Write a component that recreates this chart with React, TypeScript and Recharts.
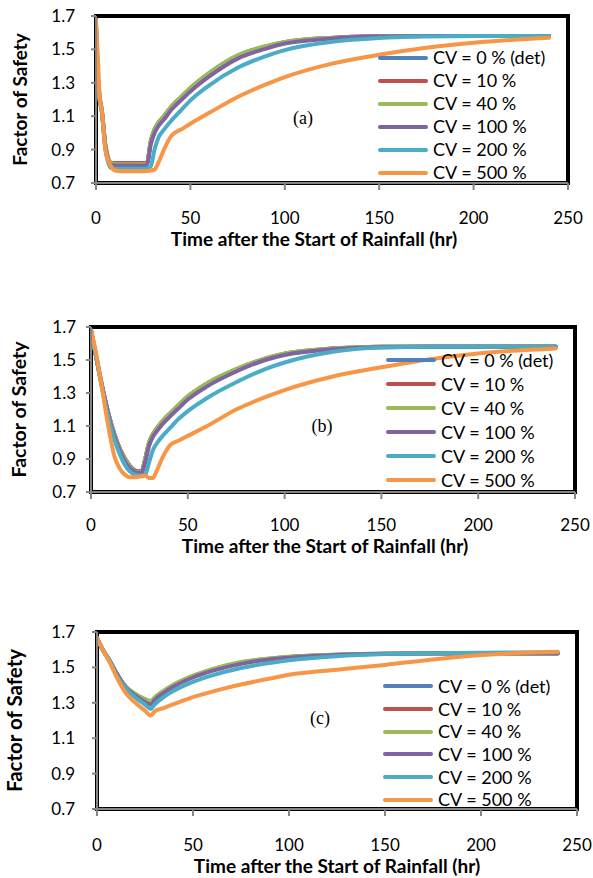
import { LineChart, Line, XAxis, YAxis, ReferenceArea, Legend } from "recharts";

const SERIES_NAMES = ["CV = 0 % (det)", "CV = 10 %", "CV = 40 %", "CV = 100 %", "CV = 200 %", "CV = 500 %"];
const COLORS = ["#4F81BD", "#C0504D", "#9BBB59", "#8064A2", "#4BACC6", "#F79646"];
const X_TICKS = [0, 50, 100, 150, 200, 250];
const Y_TICKS = [0.7, 0.9, 1.1, 1.3, 1.5, 1.7];

// (a)
const timeA = [0, 1, 2, 3, 5, 8, 10, 15, 20, 25, 27, 29, 31, 33, 36, 40, 45, 50, 60, 75, 90, 100, 125, 150, 175, 200, 240];
const aCv0 = [1.62, 1.32, 1.2, 1.14, 0.92, 0.82, 0.818, 0.818, 0.818, 0.818, 0.82, 0.95, 1.02, 1.06, 1.1, 1.158, 1.213, 1.268, 1.358, 1.462, 1.518, 1.543, 1.569, 1.578, 1.58, 1.58, 1.58];
const aCv10 = [1.62, 1.33, 1.2, 1.14, 0.92, 0.82, 0.82, 0.82, 0.82, 0.82, 0.822, 0.95, 1.02, 1.06, 1.1, 1.158, 1.213, 1.268, 1.358, 1.462, 1.518, 1.543, 1.569, 1.578, 1.58, 1.58, 1.58];
const aCv40 = [1.66, 1.36, 1.22, 1.15, 0.93, 0.82, 0.812, 0.812, 0.812, 0.812, 0.815, 0.95, 1.02, 1.06, 1.1, 1.16, 1.215, 1.27, 1.36, 1.465, 1.52, 1.545, 1.57, 1.578, 1.58, 1.58, 1.58];
const aCv100 = [1.64, 1.33, 1.2, 1.14, 0.92, 0.81, 0.805, 0.805, 0.805, 0.805, 0.808, 0.93, 1.0, 1.04, 1.08, 1.14, 1.195, 1.248, 1.338, 1.445, 1.505, 1.535, 1.565, 1.577, 1.58, 1.58, 1.58];
const aCv200 = [1.62, 1.3, 1.19, 1.13, 0.9, 0.79, 0.785, 0.785, 0.785, 0.785, 0.787, 0.8, 0.9, 0.97, 1.02, 1.075, 1.135, 1.195, 1.285, 1.39, 1.46, 1.496, 1.545, 1.568, 1.577, 1.58, 1.58];
const aCv500 = [1.68, 1.45, 1.2, 1.14, 0.9, 0.8, 0.775, 0.77, 0.77, 0.77, 0.772, 0.775, 0.78, 0.82, 0.9, 0.985, 1.02, 1.055, 1.12, 1.215, 1.29, 1.334, 1.415, 1.468, 1.51, 1.54, 1.57];

// (b)
const timeB = [0, 2, 5, 8, 10, 12, 15, 18, 20, 23, 26, 28, 30, 32, 34, 37, 41, 45, 50, 60, 75, 90, 100, 125, 150, 175, 200, 240];
const bCv0 = [1.68, 1.56, 1.385, 1.225, 1.135, 1.055, 0.96, 0.895, 0.86, 0.83, 0.825, 0.9, 1.0, 1.05, 1.085, 1.13, 1.178, 1.223, 1.278, 1.358, 1.443, 1.508, 1.538, 1.569, 1.58, 1.582, 1.582, 1.582];
const bCv10 = [1.68, 1.56, 1.383, 1.222, 1.132, 1.052, 0.958, 0.892, 0.858, 0.828, 0.823, 0.9, 1.0, 1.05, 1.085, 1.13, 1.178, 1.223, 1.278, 1.358, 1.443, 1.508, 1.538, 1.569, 1.58, 1.582, 1.582, 1.582];
const bCv40 = [1.68, 1.56, 1.38, 1.22, 1.13, 1.05, 0.955, 0.89, 0.855, 0.825, 0.82, 0.9, 1.0, 1.05, 1.085, 1.132, 1.18, 1.225, 1.28, 1.36, 1.445, 1.51, 1.54, 1.57, 1.58, 1.582, 1.582, 1.582];
const bCv100 = [1.68, 1.56, 1.38, 1.22, 1.12, 1.04, 0.945, 0.875, 0.845, 0.82, 0.815, 0.88, 0.98, 1.035, 1.068, 1.113, 1.16, 1.205, 1.26, 1.34, 1.43, 1.5, 1.53, 1.565, 1.578, 1.58, 1.58, 1.58];
const bCv200 = [1.68, 1.56, 1.37, 1.2, 1.1, 1.02, 0.925, 0.855, 0.825, 0.805, 0.8, 0.805, 0.88, 0.955, 0.995, 1.04, 1.09, 1.14, 1.19, 1.27, 1.365, 1.445, 1.485, 1.55, 1.575, 1.58, 1.58, 1.58];
const bCv500 = [1.68, 1.58, 1.38, 1.16, 1.03, 0.92, 0.84, 0.8, 0.79, 0.79, 0.795, 0.8, 0.785, 0.785, 0.83, 0.91, 0.985, 1.01, 1.04, 1.1, 1.2, 1.275, 1.318, 1.4, 1.456, 1.505, 1.54, 1.57];

// (c)
const timeC = [0, 3, 7, 10, 15, 20, 25, 28, 30, 35, 40, 50, 60, 75, 90, 100, 125, 150, 175, 200, 240];
const cCv0 = [1.665, 1.6, 1.53, 1.47, 1.39, 1.348, 1.318, 1.305, 1.325, 1.365, 1.398, 1.448, 1.485, 1.525, 1.548, 1.558, 1.571, 1.577, 1.578, 1.578, 1.578];
const cCv10 = [1.665, 1.6, 1.53, 1.47, 1.39, 1.349, 1.319, 1.307, 1.327, 1.367, 1.4, 1.45, 1.487, 1.527, 1.549, 1.559, 1.571, 1.577, 1.578, 1.578, 1.578];
const cCv40 = [1.665, 1.6, 1.53, 1.47, 1.39, 1.35, 1.32, 1.31, 1.33, 1.37, 1.403, 1.453, 1.49, 1.53, 1.55, 1.56, 1.572, 1.577, 1.578, 1.578, 1.578];
const cCv100 = [1.665, 1.6, 1.53, 1.47, 1.385, 1.34, 1.305, 1.29, 1.315, 1.358, 1.392, 1.443, 1.48, 1.52, 1.545, 1.555, 1.57, 1.577, 1.58, 1.58, 1.58];
const cCv200 = [1.665, 1.6, 1.53, 1.46, 1.38, 1.33, 1.29, 1.265, 1.29, 1.335, 1.368, 1.418, 1.455, 1.497, 1.525, 1.54, 1.563, 1.575, 1.58, 1.583, 1.585];
const cCv500 = [1.665, 1.6, 1.52, 1.45, 1.355, 1.3, 1.255, 1.228, 1.252, 1.272, 1.293, 1.332, 1.363, 1.403, 1.437, 1.458, 1.487, 1.514, 1.545, 1.57, 1.588];

const FONT = "Lato, 'Open Sans', sans-serif";
const AXIS_GREY = "#868686";

const toRows = (time: number[], series: number[][]) =>
  time.map((t, i) => {
    const row: Record<string, number> = { t };
    series.forEach((s, k) => (row[`s${k}`] = s[i]));
    return row;
  });

const rowsA = toRows(timeA, [aCv0, aCv10, aCv40, aCv100, aCv200, aCv500]);
const rowsB = toRows(timeB, [bCv0, bCv10, bCv40, bCv100, bCv200, bCv500]);
const rowsC = toRows(timeC, [cCv0, cCv10, cCv40, cCv100, cCv200, cCv500]);

const legendContent = (rowH: number) => (props: any) => {
  const items = [...(props.payload || [])].sort(
    (p: any, q: any) => SERIES_NAMES.indexOf(p.value) - SERIES_NAMES.indexOf(q.value)
  );
  return (
    <div style={{ fontFamily: FONT, fontSize: 18, color: "#000" }}>
      {items.map((e: any) => (
        <div key={e.value} style={{ display: "flex", alignItems: "center", height: rowH, whiteSpace: "nowrap" }}>
          <svg width={50} height={6} style={{ display: "block" }}>
            <line x1={2} y1={3} x2={48} y2={3} stroke={e.color} strokeWidth={4} strokeLinecap="round" />
          </svg>
          <span style={{ marginLeft: 5, lineHeight: `${rowH}px` }}>{e.value}</span>
        </div>
      ))}
    </div>
  );
};

interface PanelProps {
  top: number;
  height: number;
  plotTop: number;
  plotHeight: number;
  yWidth: number;
  right: number;
  rows: Record<string, number>[];
  tag: string;
  tagX: number;
  tagY: number;
  yTitleX: number;
  yTitleSize: number;
  xTitleDx: number;
  xTitleOffset: number;
  xTickMargin: number;
  yTickMargin: number;
  legendTop: number;
  legendLeft: number;
  legendRow: number;
}

function Panel(p: PanelProps) {
  return (
    <div style={{ position: "absolute", left: 0, top: p.top }}>
      <LineChart width={593} height={p.height} data={p.rows} margin={{ top: p.plotTop, right: p.right, bottom: 0, left: 0 }}>
        <XAxis
          dataKey="t"
          type="number"
          domain={[0, 250]}
          ticks={X_TICKS}
          allowDataOverflow
          stroke={AXIS_GREY}
          strokeWidth={2}
          tickSize={7}
          tickMargin={p.xTickMargin}
          tick={{ fill: "#000", fontSize: 17, fontFamily: FONT }}
          height={p.height - p.plotTop - p.plotHeight}
          label={{
            value: "Time after the Start of Rainfall (hr)",
            position: "insideBottom",
            offset: p.xTitleOffset,
            dx: p.xTitleDx,
            style: { fontWeight: 700, fontSize: 19, fontFamily: FONT, fill: "#000" },
          }}
        />
        <YAxis
          type="number"
          domain={[0.7, 1.7]}
          ticks={Y_TICKS}
          allowDataOverflow
          width={p.yWidth}
          stroke={AXIS_GREY}
          strokeWidth={2}
          tickSize={5}
          tickMargin={p.yTickMargin}
          tickFormatter={(v: number) => v.toFixed(1)}
          tick={{ fill: "#000", fontSize: 17, fontFamily: FONT }}
          label={{
            value: "Factor of Safety",
            angle: -90,
            position: "insideLeft",
            offset: p.yTitleX,
            style: { textAnchor: "middle", fontWeight: 700, fontSize: p.yTitleSize, fontFamily: FONT, fill: "#000" },
          }}
        />
        <ReferenceArea x1={0} x2={250} y1={0.7} y2={1.7} fill="none" stroke="#000" strokeWidth={4} ifOverflow="visible" />
        {SERIES_NAMES.map((name, k) => (
          <Line
            key={name}
            type="monotone"
            dataKey={`s${k}`}
            name={name}
            stroke={COLORS[k]}
            strokeWidth={4}
            strokeLinecap="round"
            strokeLinejoin="round"
            dot={false}
            activeDot={false}
            isAnimationActive={false}
          />
        ))}
        <Legend
          layout="vertical"
          align="center"
          verticalAlign="middle"
          wrapperStyle={{ top: p.legendTop, left: p.legendLeft, width: "auto" }}
          content={legendContent(p.legendRow)}
        />
        <text x={p.tagX} y={p.tagY} textAnchor="middle" dominantBaseline="central" fontFamily="'Liberation Serif', serif" fontSize={18} fill="#000">
          {p.tag}
        </text>
      </LineChart>
    </div>
  );
}

export default function App() {
  return (
    <div style={{ position: "fixed", left: 0, top: 0, width: 593, height: 878, background: "#fff", overflow: "hidden" }}>
      <Panel
        top={0}
        height={256}
        plotTop={16}
        plotHeight={167}
        yWidth={96}
        right={25}
        rows={rowsA}
        tag="(a)"
        tagX={303}
        tagY={118}
        yTitleX={20}
        yTitleSize={19}
        xTitleDx={-18}
        xTitleOffset={10}
        xTickMargin={22}
        yTickMargin={16}
        legendTop={46}
        legendLeft={378}
        legendRow={23}
      />
      <Panel
        top={290}
        height={266}
        plotTop={37}
        plotHeight={165}
        yWidth={91}
        right={18}
        rows={rowsB}
        tag="(b)"
        tagX={322}
        tagY={136}
        yTitleX={19}
        yTitleSize={19.5}
        xTitleDx={-8}
        xTitleOffset={3}
        xTickMargin={20}
        yTickMargin={10}
        legendTop={58}
        legendLeft={386}
        legendRow={24}
      />
      <Panel
        top={600}
        height={278}
        plotTop={32}
        plotHeight={177}
        yWidth={97}
        right={16}
        rows={rowsC}
        tag="(c)"
        tagX={320}
        tagY={118}
        yTitleX={15}
        yTitleSize={20.5}
        xTitleDx={0}
        xTitleOffset={5}
        xTickMargin={23}
        yTickMargin={17}
        legendTop={75}
        legendLeft={383}
        legendRow={22.7}
      />
    </div>
  );
}
